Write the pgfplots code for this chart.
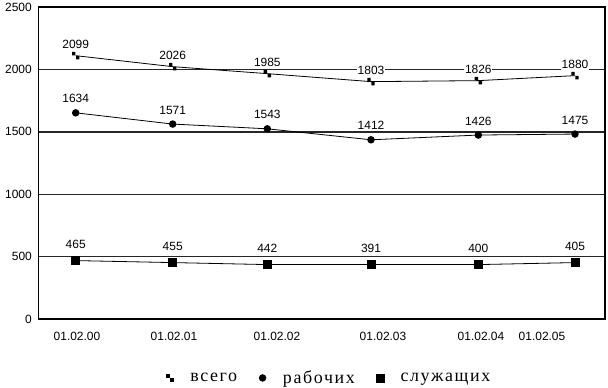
\documentclass[border=0pt]{standalone}
\usepackage{fontspec}
\setmainfont{Liberation Sans}
\newfontfamily\legfont[LetterSpace=9]{Liberation Serif}
\usepackage{pgfplots}
\pgfplotsset{compat=1.18}

\pgfdeclareplotmark{twosq}{%
  \pgfpathrectangle{\pgfpoint{-3.7bp}{0.3bp}}{\pgfpoint{3.4bp}{3.4bp}}%
  \pgfpathrectangle{\pgfpoint{0.3bp}{-3.7bp}}{\pgfpoint{3.4bp}{3.4bp}}%
  \pgfusepathqfill}

\begin{document}
\begin{tikzpicture}
\begin{axis}[
  name=ax,
  scale only axis,
  width=566.5bp, height=312bp,
  xmin=38.5, xmax=605,
  ymin=0, ymax=2500,
  ytick={0,500,1000,1500,2000,2500},
  xtick={77,174,277,383,481,542},
  xticklabels={01.02.00,01.02.01,01.02.02,01.02.03,01.02.04,01.02.05},
  major tick length=0pt,
  tick style={draw=none},
  ymajorgrids,
  major grid style={black!85, line width=1.4bp},
  axis line style={black, line width=1.3bp},
  ticklabel style={font=\fontsize{12}{14}\selectfont},
  yticklabel style={inner sep=0pt, xshift=-6.5bp},
  xticklabel style={inner sep=0pt, yshift=-13bp},
  /pgf/number format/assume math mode=true,
  /pgf/number format/1000 sep={},
  point meta=explicit symbolic,
  nodes near coords,
  every node near coord/.append style={anchor=center, fill=white, inner sep=0.8bp,
     font=\fontsize{12}{14}\selectfont, text=black},
  legend columns=3,
  legend style={at={(0.510,-0.189)}, anchor=center, draw=none, fill=none,
    font=\legfont\fontsize{18}{20}\selectfont,
    /tikz/every odd column/.append style={column sep=15bp},
    /tikz/every even column/.append style={column sep=20bp},
    nodes={inner sep=0pt}},
  clip=false,
]
\addplot[black, line width=0.8bp, mark=twosq,
  every node near coord/.append style={yshift=11bp},
  legend image code/.code={\path (-5bp,0) (5bp,0); \fill (-3.7bp,0.3bp) rectangle ++(3.4bp,3.4bp); \fill (0.3bp,-3.7bp) rectangle ++(3.4bp,3.4bp);}]
coordinates {
(75.7,2110) [2099]
(172.7,2022) [2026]
(267.3,1966) [1985]
(371,1902) [1803]
(478.3,1910) [1826]
(575,1950) [1880]
};
\addlegendentry{всего}
\addplot[black, line width=0.8bp, mark=*, mark size=3.3bp,
  every node near coord/.append style={yshift=14bp},
  legend image code/.code={\path (-5bp,0) (5bp,0); \fill (0,0) circle (3.3bp);}]
coordinates {
(75.7,1652) [1634]
(172.7,1562) [1571]
(267.3,1524) [1543]
(371,1436) [1412]
(478.3,1474) [1426]
(575,1482) [1475]
};
\addlegendentry{рабочих}
\addplot[black, line width=0.8bp, mark=square*, mark size=4bp,
  every node near coord/.append style={yshift=16bp},
  legend image code/.code={\path (-5bp,0) (5bp,0); \fill (-4bp,-4bp) rectangle (4bp,4bp);}]
coordinates {
(75.7,468) [465]
(172.7,452) [455]
(267.3,436) [442]
(371,436) [391]
(478.3,436) [400]
(575,452) [405]
};
\addlegendentry{служащих}
\end{axis}
\pgfresetboundingbox
\path (-38.5bp,-69bp) rectangle (569.5bp,319bp);
\end{tikzpicture}
\end{document}
